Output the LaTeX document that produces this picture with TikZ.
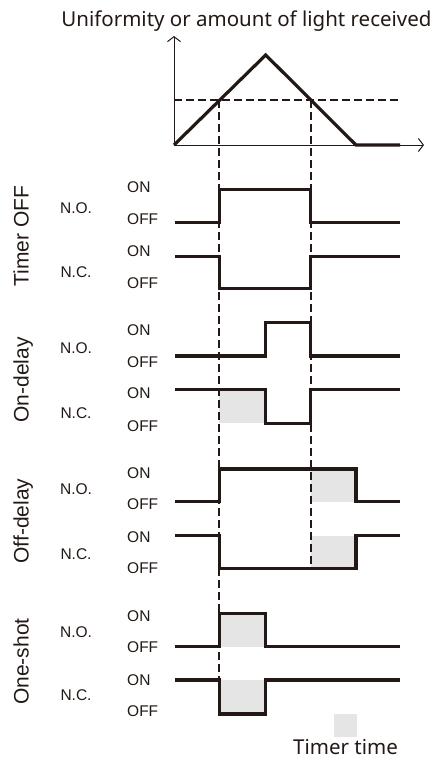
\documentclass[tikz,border=0pt]{standalone}
\usepackage{fontspec}
\setmainfont{Liberation Sans}
\newfontfamily\notosans{Noto Sans}
\usepackage{tikz}
\usetikzlibrary{arrows.meta}
\definecolor{ink}{RGB}{35,24,21}
\tikzstyle{level}		=[anchor=west, inner sep=0pt, text height=10.9pt, text depth=0pt, text=ink, font=\fontsize{15.5}{18}\selectfont]
\tikzstyle{contact}	=[anchor=center, inner sep=0pt, text height=10.9pt, text depth=0pt, text=ink, font=\fontsize{15.5}{18}\selectfont]
\tikzstyle{mode}		=[anchor=center, rotate=90, inner sep=0pt, text height=15pt, text depth=0pt, text=ink, font=\fontsize{21}{24}\selectfont]
\tikzstyle{caption}	=[anchor=center, inner sep=0pt, text height=14.6pt, text depth=0pt, text=ink, font=\notosans\fontsize{20.5}{24}\selectfont]
\tikzstyle{signal}	=[draw=ink, line width=3.2pt]
\tikzstyle{guide}		=[draw=ink, line width=2pt, dash pattern=on 8pt off 4pt]
\tikzstyle{axis}		=[draw=ink, line width=1pt, -{Straight Barb[length=5pt, width=13pt]}]
\tikzstyle{timed}		=[fill=black!10, draw=none]

\begin{document}
\begin{tikzpicture}[x=1pt, y=-1pt]

	\useasboundingbox (0,0) rectangle (443,760);

	% light received
	\node (Title)			[caption]			at (246.5, 19.2)		{Uniformity or amount of light received};
	\draw[axis]		(174,145) -- (174,36);
	\draw[axis]		(174,145) -- (424,145);
	\draw[guide]	(174,100) -- (400,100);
	\draw[signal]	(174,145) -- (265.7,55) -- (356,145) -- (400,145);

	% timer time
	\fill[timed]	(219.3,389.3) rectangle (265.7,423.3);
	\fill[timed]	(310.7,469.0) rectangle (356.0,501.7);
	\fill[timed]	(310.7,535.7) rectangle (356.0,568.3);
	\fill[timed]	(219.3,613.3) rectangle (265.7,646.7);
	\fill[timed]	(219.3,680.0) rectangle (265.7,714.0);
	\fill[timed]	(334.3,714.3) rectangle (356.7,736.7);
	\node (Legend)		[caption]			at (345.5, 747)		{Timer time};

	\draw[guide]	(219.3,100) -- (219.3,714);
	\draw[guide]	(310.7,100) -- (310.7,568.3);

	% Timer OFF
	\node (TimerOff)		[mode]		at (21, 236)		{Timer OFF};
	\node (TimerOffNO)	[contact]	at (76, 208)		{N.O.};
	\node (TimerOffNC)	[contact]	at (76, 271.7)	{N.C.};
	\node (TimerOffOn1)	[level]		at (127, 186.7)	{ON};
	\node (TimerOffOff1)	[level]	at (127, 219)		{OFF};
	\node (TimerOffOn2)	[level]		at (127, 251)		{ON};
	\node (TimerOffOff2)	[level]	at (127, 283)		{OFF};
	\draw[signal]	(175,222.3) -| (219.3,189.3) -| (310.7,222.3) -- (400,222.3);
	\draw[signal]	(175,256.7) -| (219.3,288.3) -| (310.7,256.7) -- (400,256.7);

	% On-delay
	\node (OnDelay)		[mode]		at (21, 380)		{On-delay};
	\node (OnDelayNO)		[contact]	at (76, 348.3)	{N.O.};
	\node (OnDelayNC)		[contact]	at (76, 413.3)	{N.C.};
	\node (OnDelayOn1)	[level]		at (127, 330)		{ON};
	\node (OnDelayOff1)	[level]		at (127, 361.7)	{OFF};
	\node (OnDelayOn2)	[level]		at (127, 393.3)	{ON};
	\node (OnDelayOff2)	[level]		at (127, 426)		{OFF};
	\draw[signal]	(175,356) -| (265.7,322.7) -| (310.7,356) -- (400,356);
	\draw[signal]	(175,389.3) -| (265.7,423.3) -| (310.7,389.3) -- (400,389.3);

	% Off-delay
	\node (OffDelay)		[mode]		at (21, 521)		{Off-delay};
	\node (OffDelayNO)	[contact]	at (76, 489.3)	{N.O.};
	\node (OffDelayNC)	[contact]	at (76, 554)		{N.C.};
	\node (OffDelayOn1)	[level]		at (127, 472.7)	{ON};
	\node (OffDelayOff1)	[level]	at (127, 504)		{OFF};
	\node (OffDelayOn2)	[level]		at (127, 536.7)	{ON};
	\node (OffDelayOff2)	[level]	at (127, 568.3)	{OFF};
	\draw[signal]	(175,501.7) -| (219.3,469) -| (356,501.7) -- (400,501.7);
	\draw[signal]	(175,535.7) -| (219.3,568.3) -| (356,535.7) -- (400,535.7);

	% One-shot
	\node (OneShot)		[mode]		at (21, 661.6)	{One-shot};
	\node (OneShotNO)		[contact]	at (76, 631.7)	{N.O.};
	\node (OneShotNC)		[contact]	at (76, 695)		{N.C.};
	\node (OneShotOn1)	[level]		at (127, 616)		{ON};
	\node (OneShotOff1)	[level]		at (127, 647.3)	{OFF};
	\node (OneShotOn2)	[level]		at (127, 680)		{ON};
	\node (OneShotOff2)	[level]		at (127, 710.7)	{OFF};
	\draw[signal]	(175,646.7) -| (219.3,613.3) -| (265.7,646.7) -- (400,646.7);
	\draw[signal]	(175,680) -| (219.3,714) -| (265.7,680) -- (400,680);

\end{tikzpicture}
\end{document}
